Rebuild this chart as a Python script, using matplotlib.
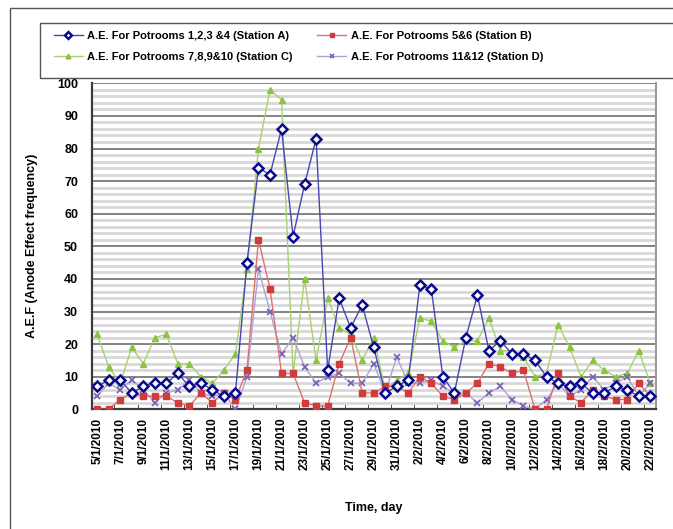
import numpy as np
import matplotlib
matplotlib.use("Agg")
import matplotlib.pyplot as plt
from matplotlib.patches import Rectangle
from matplotlib.ticker import MultipleLocator

plt.rcParams['font.family'] = ['Liberation Sans', 'DejaVu Sans']

# daily dates 5/1/2010 .. 22/2/2010
dates = [f"{d}/1/2010" for d in range(5, 32)] + [f"{d}/2/2010" for d in range(1, 23)]

station_a = [7, 9, 9, 5, 7, 8, 8, 11, 7, 8, 6, 4, 5, 45, 74, 72, 86, 53, 69, 83,
             12, 34, 25, 32, 19, 5, 7, 9, 38, 37, 10, 5, 22, 35, 18, 21, 17, 17, 15, 10,
             8, 7, 8, 5, 5, 7, 6, 4, 4]
station_b = [0, 0, 3, 5, 4, 4, 4, 2, 1, 5, 2, 5, 3, 12, 52, 37, 11, 11, 2, 1,
             1, 14, 22, 5, 5, 7, 7, 5, 10, 8, 4, 3, 5, 8, 14, 13, 11, 12, 0, 0,
             11, 4, 2, 6, 4, 3, 3, 8, 4]
station_c = [23, 13, 8, 19, 14, 22, 23, 14, 14, 10, 8, 12, 17, 43, 80, 98, 95, 11, 40, 15,
             34, 25, 23, 15, 22, 6, 9, 11, 28, 27, 21, 19, 21, 21, 28, 18, 18, 16, 10, 11,
             26, 19, 10, 15, 12, 10, 11, 18, 8]
station_d = [4, 8, 6, 9, 6, 2, 5, 6, 9, 5, 4, 5, 0, 10, 43, 30, 17, 22, 13, 8,
             10, 11, 8, 8, 14, 5, 16, 8, 8, 9, 7, 5, 5, 2, 5, 7, 3, 1, 0, 3,
             8, 4, 6, 10, 6, 8, 10, 4, 8]

labels = ["A.E. For Potrooms 1,2,3 &4 (Station A)",
          "A.E. For Potrooms 5&6 (Station B)",
          "A.E. For Potrooms 7,8,9&10 (Station C)",
          "A.E. For Potrooms 11&12 (Station D)"]

x = np.arange(len(dates))

W, H = 673, 529
fig = plt.figure(figsize=(W / 100, H / 100), dpi=100)
ax = fig.add_axes([92 / W, 1 - 409.3 / H, 564 / W, 326 / H])

# outer chart frame and legend box (both run past the right edge)
fig.patches.append(Rectangle((10 / W, -0.1), 1.2, 1 - 8 / H + 0.1,
                             transform=fig.transFigure, fill=False,
                             edgecolor='#555555', linewidth=1.0))
fig.patches.append(Rectangle((40 / W, 1 - 78 / H), 1.2, 55 / H,
                             transform=fig.transFigure, fill=False,
                             edgecolor='#555555', linewidth=1.0))

la, = ax.plot(x, station_a, color='#4646b4', lw=1.0, marker='D', ms=5.5,
              mfc='white', mec='#0a0a8c', mew=1.8, zorder=5)
lb, = ax.plot(x, station_b, color='#e07070', lw=1.0, marker='s', ms=5,
              mfc='#d03c3c', mec='#d03c3c', zorder=4)
lc, = ax.plot(x, station_c, color='#a8d070', lw=1.0, marker='^', ms=5,
              mfc='#8cc440', mec='#8cc440', zorder=3)
ld, = ax.plot(x, station_d, color='#b0a0d8', lw=1.0, marker='x', ms=5,
              mec='#7a5cb4', mew=1.2, zorder=3)

ax.set_xlim(-0.45, 48.5)
ax.set_ylim(0, 100)

# striped horizontal grid
ax.yaxis.set_major_locator(MultipleLocator(10))
ax.yaxis.set_minor_locator(MultipleLocator(2))
ax.grid(which='minor', axis='y', color='#d8d8d8', lw=2.0, zorder=0)
ax.grid(which='major', axis='y', color='#7a7a7a', lw=1.3, zorder=1)
ax.set_axisbelow(True)

ax.set_xticks(x[::2])
ax.set_xticklabels(dates[::2], rotation=90, fontsize=8.5, fontweight='bold')
ax.set_xticks(x[1::2] + 0.5, minor=True)
ax.tick_params(axis='x', which='major', length=0, pad=6)
ax.tick_params(axis='x', which='minor', direction='in', length=4, color='#333333')
ax.tick_params(axis='y', which='both', length=0, labelsize=9, pad=10)
for t in ax.get_yticklabels():
    t.set_fontweight('bold')

for side in ['left', 'bottom']:
    ax.spines[side].set_color('#3c3c3c')
    ax.spines[side].set_linewidth(1.6)
ax.spines['right'].set_color('#9a9a9a')
ax.spines['right'].set_linewidth(1.5)
ax.spines['top'].set_visible(False)

ax.set_ylabel('A.E.F (Anode Effect frequency)', fontsize=9, fontweight='bold', labelpad=14)
ax.set_xlabel('Time, day', fontsize=9, fontweight='bold')
ax.xaxis.set_label_coords(0.5, -0.285)

# legend fills column-wise, so order A, C | B, D gives rows A B / C D
leg = fig.legend([la, lc, lb, ld], [labels[0], labels[2], labels[1], labels[3]],
                 loc='upper left', bbox_to_anchor=(54 / W, 1 - 31 / H),
                 ncol=2, frameon=False, handlelength=2.6, handletextpad=0.4,
                 borderaxespad=0, borderpad=0, labelspacing=0.95, columnspacing=2.2,
                 prop={'weight': 'bold', 'size': 8})
for h in leg.legend_handles:
    h.set_markersize(3.5)

fig.savefig('out.png', dpi=100)
